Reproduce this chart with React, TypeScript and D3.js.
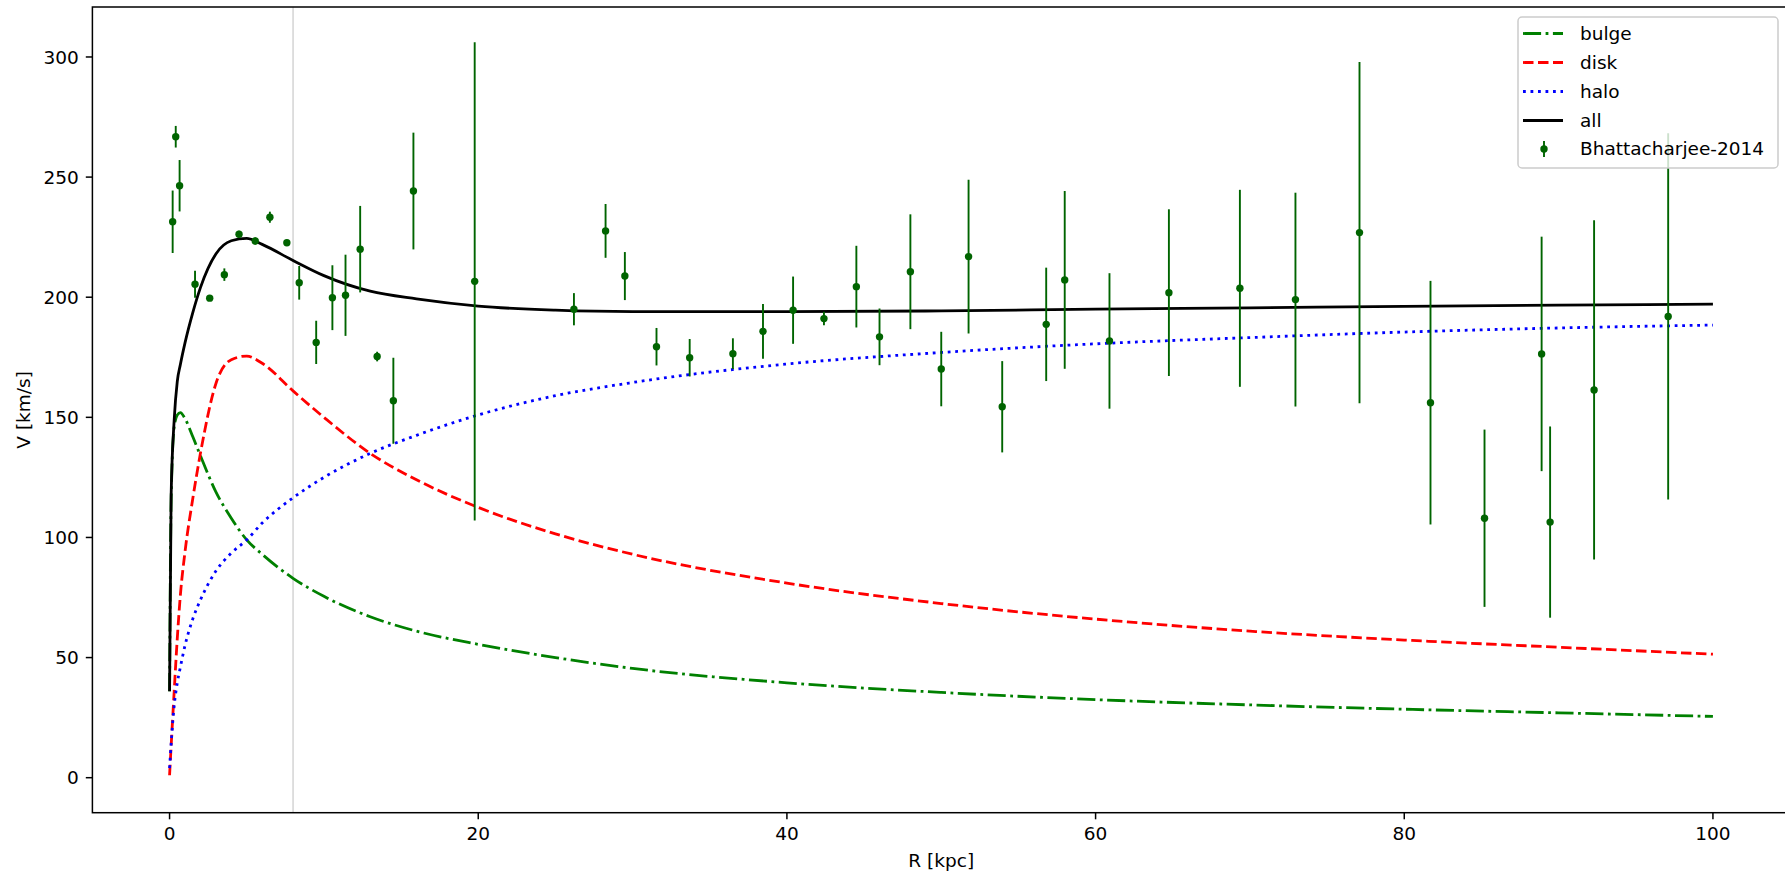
import React from "react";
import * as d3 from "d3";

// model curves sampled at these radii [kpc]
const R_GRID = [0, 0.1, 0.3, 0.5, 0.7, 1, 1.5, 2, 3, 4, 5, 6, 8, 10, 13, 16, 20, 25, 30, 40, 50, 60, 70, 80, 90, 100];
const BULGE = [36, 115, 146, 151, 152, 149.5, 142, 134, 119, 108, 99, 93, 83, 75.5, 67, 61, 55.5, 50, 45.5, 39.5, 35.5, 32.5, 30.3, 28.5, 27, 25.5];
const DISK = [1, 13, 36, 58, 76, 94, 116, 135, 164, 174, 175.5, 172.5, 161, 150, 135, 124, 112.5, 101.5, 93, 81, 72.5, 66, 61, 57.3, 54.3, 51.4];
const HALO = [4, 14, 30, 39.5, 46, 55, 66, 74, 86, 93.5, 99, 106, 116.5, 125, 135, 142.5, 151, 159, 164.5, 172.2, 177, 180.6, 183.2, 185.5, 187.2, 188.4];
const ALL = [36, 117, 149, 165, 172, 181, 193.5, 204, 218, 223.5, 224.5, 222, 215.3, 209, 202.5, 199.3, 196.3, 194.6, 194, 194, 194.3, 195, 195.6, 196.2, 196.7, 197.1];

// Bhattacharjee-2014 observations
const OBS_R = [0.2, 0.4, 0.65, 1.65, 2.6, 3.55, 4.5, 5.55, 6.5, 7.6, 8.4, 9.5, 10.55, 11.4, 12.35, 13.45, 14.5, 15.8, 19.77, 26.2, 28.25, 29.5, 31.55, 33.7, 36.5, 38.45, 40.4, 42.4, 44.5, 46.0, 48.0, 50.0, 51.77, 53.95, 56.8, 58.0, 60.9, 64.75, 69.35, 72.95, 77.1, 81.7, 85.2, 88.9, 89.45, 92.3, 97.1];
const OBS_V = [231.4, 266.8, 246.4, 205.4, 199.6, 209.4, 226.2, 223.4, 233.3, 222.7, 206, 181.2, 199.8, 200.8, 220, 175.3, 156.9, 244.2, 206.6, 195.0, 227.6, 208.8, 179.4, 174.8, 176.5, 185.8, 194.6, 191.1, 204.4, 183.5, 210.6, 170.1, 216.9, 154.4, 188.7, 207.2, 181.8, 201.9, 203.7, 199.0, 226.9, 156.1, 108.0, 176.4, 106.4, 161.4, 192.0];
const OBS_ERR = [13, 4.5, 10.7, 5.6, 1, 2.6, 1.5, 1.5, 2.3, 1.2, 7, 9, 13.5, 16.9, 18, 2, 17.9, 24.3, 99.5, 6.7, 11.2, 10, 7.8, 7.8, 6.4, 11.4, 14, 2.8, 17, 11.8, 23.9, 15.5, 32, 19, 23.6, 37, 28.2, 34.7, 41, 44.5, 71, 50.7, 36.9, 48.8, 39.8, 70.6, 76.2];

const X_TICKS = [0, 20, 40, 60, 80, 100];
const Y_TICKS = [0, 50, 100, 150, 200, 250, 300];
const SUN_R = 8;

const W = 1785;
const H = 874;
const FONT = "DejaVu Sans";
const FS = 18.5;

const series = [
  { label: "bulge", values: BULGE, color: "#008000", dash: "18.1,4.5,2.8,4.5" },
  { label: "disk", values: DISK, color: "#ff0000", dash: "10.5,4.5" },
  { label: "halo", values: HALO, color: "#0000ff", dash: "2.8,4.7" },
  { label: "all", values: ALL, color: "#000000", dash: null as string | null },
];

export default function App() {
  const x = d3.scaleLinear().domain([-5, 105]).range([92.4, 1790.1]);
  const y = d3.scaleLinear().domain([-14.57, 320.8]).range([812.7, 7]);
  const left = x.range()[0];
  const right = x.range()[1];
  const top = y.range()[1];
  const bottom = y.range()[0];

  const line = (vals: number[]) =>
    d3
      .line<number>()
      .x((_, i) => x(R_GRID[i]))
      .y((v) => y(v))
      .curve(d3.curveMonotoneX)(vals) || "";

  const legendX = 1518;
  const legendY = 17;
  const rowH = 29;

  return (
    <svg
      width={W}
      height={H}
      style={{ position: "absolute", left: 0, top: 0, background: "#fff" }}
      fontFamily={FONT}
    >
      <rect x={0} y={0} width={W} height={H} fill="#fff" />
      <line x1={x(SUN_R)} x2={x(SUN_R)} y1={top} y2={bottom} stroke="#c4c4c4" strokeWidth={1.1} />

      {series.map((s) => (
        <path
          key={s.label}
          d={line(s.values)}
          fill="none"
          stroke={s.color}
          strokeWidth={2.8}
          strokeDasharray={s.dash || undefined}
          strokeLinecap="butt"
          strokeLinejoin="round"
        />
      ))}

      {OBS_R.map((r, i) => (
        <g key={i}>
          <line
            x1={x(r)}
            x2={x(r)}
            y1={y(OBS_V[i] + OBS_ERR[i])}
            y2={y(OBS_V[i] - OBS_ERR[i])}
            stroke="#006400"
            strokeWidth={1.9}
          />
          <circle cx={x(r)} cy={y(OBS_V[i])} r={3.7} fill="#006400" />
        </g>
      ))}

      {/* frame */}
      <rect x={left} y={top} width={right - left} height={bottom - top} fill="none" stroke="#000" strokeWidth={1.5} />

      {X_TICKS.map((t) => (
        <g key={t}>
          <line x1={x(t)} x2={x(t)} y1={bottom} y2={bottom + 6.6} stroke="#000" strokeWidth={1.5} />
          <text x={x(t)} y={840} fontSize={FS} textAnchor="middle" fill="#000">
            {t}
          </text>
        </g>
      ))}
      {Y_TICKS.map((t) => (
        <g key={t}>
          <line x1={left - 6.6} x2={left} y1={y(t)} y2={y(t)} stroke="#000" strokeWidth={1.5} />
          <text x={left - 13.5} y={y(t) + 6.7} fontSize={FS} textAnchor="end" fill="#000">
            {t}
          </text>
        </g>
      ))}
      <text x={(left + right) / 2} y={867} fontSize={FS} textAnchor="middle" fill="#000">
        R [kpc]
      </text>
      <text x={30} y={(top + bottom) / 2} fontSize={FS} textAnchor="middle" fill="#000" transform={`rotate(-90 30 ${(top + bottom) / 2})`}>
        V [km/s]
      </text>

      {/* legend */}
      <rect x={legendX} y={legendY} width={260} height={151} rx={4} fill="#fff" fillOpacity={0.8} stroke="#cccccc" strokeWidth={1.5} />
      {series.map((s, i) => {
        const cy = 33.5 + i * rowH;
        return (
          <g key={s.label}>
            <line x1={1523} x2={1563} y1={cy} y2={cy} stroke={s.color} strokeWidth={2.8} strokeDasharray={s.dash || undefined} />
            <text x={1580} y={cy + 6} fontSize={FS} fill="#000">
              {s.label}
            </text>
          </g>
        );
      })}
      <g>
        <line x1={1544} x2={1544} y1={141} y2={157} stroke="#006400" strokeWidth={1.9} />
        <circle cx={1544} cy={149} r={3.7} fill="#006400" />
        <text x={1580} y={155} fontSize={FS} fill="#000">
          Bhattacharjee-2014
        </text>
      </g>
    </svg>
  );
}
